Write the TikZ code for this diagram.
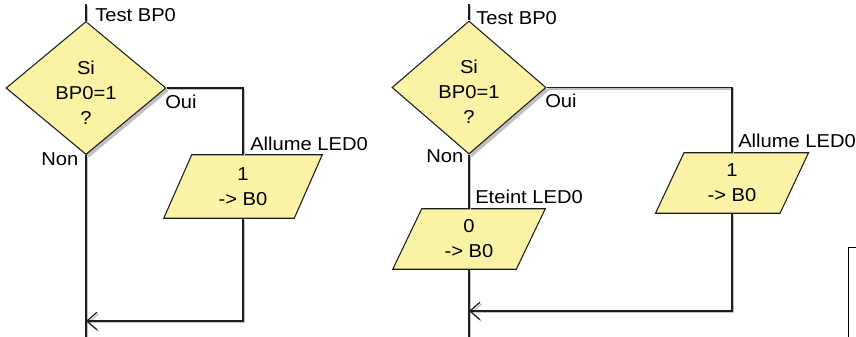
\documentclass[tikz,border=0pt]{standalone}
\usepackage{fontspec}
\setmainfont{Liberation Sans}[FakeStretch=1.08]
\usetikzlibrary{shapes.geometric,shadows,arrows.meta,calc,backgrounds}
\definecolor{boxfill}{RGB}{250,242,165}
\definecolor{linecol}{RGB}{30,30,30}
\definecolor{shadecol}{RGB}{192,192,192}

\begin{document}
\begin{tikzpicture}[x=0.75pt,y=-0.75pt,
  every node/.style={font=\fontsize{14}{18.75}\selectfont},
  boxshadow/.style={drop shadow={shadow xshift=2.25pt, shadow yshift=-2.25pt, fill=shadecol, opacity=1}},
  decision/.style={diamond, draw=linecol, line width=0.8pt, fill=boxfill,
    inner sep=0pt, align=center, text height=54pt, text depth=0pt, boxshadow},
  assign/.style={rectangle, inner sep=0pt, align=center},
  slanted/.style={draw=linecol, line width=0.8pt, fill=boxfill},
  link/.style={draw=linecol, line width=1.1pt,
    preaction={draw=shadecol, line width=1.1pt, transform canvas={xshift=1.2pt, yshift=-1.2pt}}},
  back/.style={link, -{Straight Barb[length=7.5pt, width=13pt, line width=0.9pt]}},
  lbl/.style={anchor=base west, inner sep=0pt},
]
\path[use as bounding box, clip] (0,0) rectangle (856,336);

% ---------- first flowchart: only "Allume LED0" ----------
\coordinate (Ltop) at (86,4);
\coordinate (Ljoin) at (86,321);
\coordinate (Lend) at (86,337);
\node[decision, minimum width=120pt, minimum height=93.75pt] (D1) at (86,88) {Si\\BP0=1\\?};
\node[assign, minimum width=97.5pt, minimum height=47.25pt] (P1) at (243,186.5) {1\\-> B0};

\draw[link] (Ltop) -- (D1.north);
\draw[link] (D1.south) -- (Lend);
\draw[link] (D1.east) -| (P1.north);
\draw[back] (P1.south) |- (Ljoin);

\node[lbl] (t1) at (95,21) {Test BP0};
\node[lbl] (o1) at (165,108) {Oui};
\node[lbl] (n1) at (41,165) {Non};
\node[lbl] (a1) at (250,150) {Allume LED0};

% ---------- second flowchart: both branches ----------
\coordinate (Rtop) at (469,4);
\coordinate (Rjoin) at (469,311);
\coordinate (Rend) at (469,337);
\node[decision, minimum width=115.5pt, minimum height=90.75pt] (D2) at (469,87.5) {Si\\BP0=1\\?};
\node[assign, minimum width=93pt, minimum height=45pt] (P2) at (732,183) {1\\-> B0};
\node[assign, minimum width=92.25pt, minimum height=45pt] (P3) at (469,239) {0\\-> B0};

\draw[link] (Rtop) -- (D2.north);
\draw[link] (D2.south) -- (P3.north);
\draw[link] (P3.south) -- (Rend);
\draw[link] (D2.east) -| (P2.north);
\draw[back] (P2.south) |- (Rjoin);

\node[lbl] (t2) at (476,24) {Test BP0};
\node[lbl] (o2) at (545,107) {Oui};
\node[lbl] (n2) at (426,162) {Non};
\node[lbl] (e2) at (475,203) {Eteint LED0};
\node[lbl] (a2) at (738,147) {Allume LED0};

% ---------- frame entering at the lower right ----------
\node[draw=black, line width=1.1pt, anchor=north west, minimum width=60pt, minimum height=90pt, inner sep=0pt] (frame) at (848,247) {};

% ---------- slanted data boxes, drawn behind their text ----------
\begin{scope}[on background layer]
  \foreach \n/\s in {P1/14, P2/14.25, P3/14.5} {
    \fill[shadecol, shift={(3,3)}]
      ($(\n.north west)+(\s,0)$) -- ($(\n.north east)+(\s,0)$) --
      ($(\n.south east)-(\s,0)$) -- ($(\n.south west)-(\s,0)$) -- cycle;
    \path[slanted]
      ($(\n.north west)+(\s,0)$) -- ($(\n.north east)+(\s,0)$) --
      ($(\n.south east)-(\s,0)$) -- ($(\n.south west)-(\s,0)$) -- cycle;
  }
\end{scope}
\end{tikzpicture}
\end{document}
